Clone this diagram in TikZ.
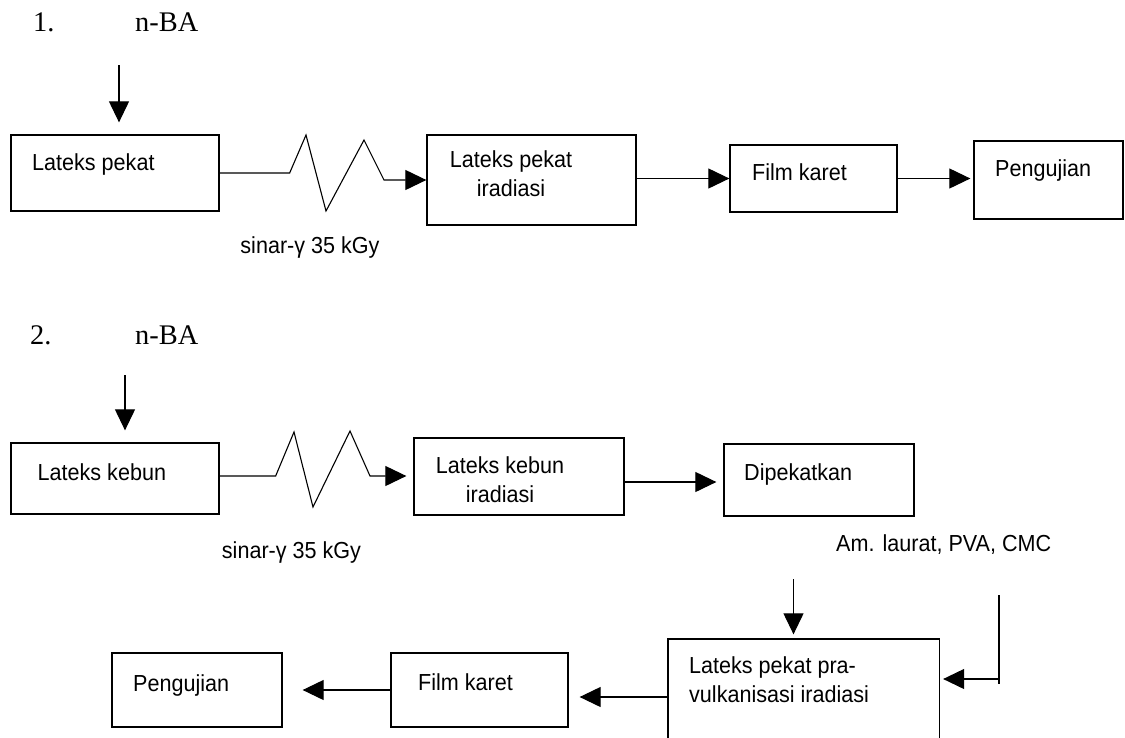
\documentclass[tikz,border=0pt]{standalone}
\usepackage{fontspec}
\setmainfont{Liberation Serif}
\newfontfamily\arialfont[FakeStretch=0.93]{Liberation Sans}
\usetikzlibrary{arrows.meta}
\tikzset{
    box/.style={draw, rectangle, line width=1.3pt, inner sep=0pt},
    txt/.style={inner sep=0pt, anchor=base west,
        font=\arialfont\fontsize{23.2}{29}\selectfont},
    head/.style={inner sep=0pt, anchor=base west,
        font=\fontsize{28.4}{34}\selectfont},
    line/.style={line width=1.1pt},
    arrow/.style={line width=1.1pt, -{Triangle[length=21pt,width=20pt]}}
}

\begin{document}
\begin{tikzpicture}[x=1pt,y=-1pt]
    \useasboundingbox (0,0) rectangle (1125,737);
    \clip (0,0) rectangle (1125,737);

    % skema 1
    \node[head] (no1) at (33,31.5) {1.};
    \node[head] (nba1) at (135,31.5) {n-BA};
    \node[box, minimum width=208pt, minimum height=76pt] (lp) at (115,173) {};
    \node[box, minimum width=209pt, minimum height=90pt] (lpi) at (531.5,180) {};
    \node[box, minimum width=167pt, minimum height=67pt] (fk1) at (813.5,178.5) {};
    \node[box, minimum width=149pt, minimum height=78pt] (uji1) at (1048.5,180) {};
    \node[txt] (lpt) at (32,170) {Lateks pekat};
    \node[txt, anchor=base, align=center] (lpit) at (511,196.5) {Lateks pekat\\iradiasi};
    \node[txt] (fk1t) at (752,180) {Film karet};
    \node[txt] (uji1t) at (995,176) {Pengujian};
    \node[txt, anchor=base] (sinar1) at (310,253) {sinar-γ 35 kGy};

    \coordinate (in1) at (119,65);
    \draw[arrow, shorten >=12pt] (in1) -- (in1 |- lp.north);
    \draw[arrow] (lp.east) -- ++(70,0) -- (306,135) -- (326,211)
        -- (364,140) -- (384,180) -- (lpi.west);
    \draw[arrow] (lpi.east |- fk1.west) -- (fk1.west);
    \draw[arrow, shorten >=3pt] (fk1.east) -- (fk1.east -| uji1.west);

    % skema 2
    \node[head] (no2) at (30,344.5) {2.};
    \node[head] (nba2) at (135,344.5) {n-BA};
    \node[box, minimum width=208pt, minimum height=71pt] (lk) at (115,478.5) {};
    \node[box, minimum width=210pt, minimum height=77pt] (lki) at (519,476.5) {};
    \node[box, minimum width=190pt, minimum height=72pt] (dip) at (819,480) {};
    \node[box, minimum width=271.5pt, minimum height=116pt] (pv) at (803.75,697) {};
    \node[box, minimum width=177pt, minimum height=74pt] (fk2) at (479.5,690) {};
    \node[box, minimum width=170pt, minimum height=74pt] (uji2) at (197,690) {};
    \node[txt] (lkt) at (37.5,480) {Lateks kebun};
    \node[txt, anchor=base, align=center] (lkit) at (500,502.5) {Lateks kebun\\iradiasi};
    \node[txt] (dipt) at (744,480) {Dipekatkan};
    \node[txt] (amt) at (836,551) {Am. laurat, PVA, CMC};
    \node[txt, align=left] (pvt) at (689,702.5) {Lateks pekat pra-\\vulkanisasi iradiasi};
    \node[txt] (fk2t) at (418,690) {Film karet};
    \node[txt] (uji2t) at (133,691) {Pengujian};
    \node[txt, anchor=base] (sinar2) at (291.5,558) {sinar-γ 35 kGy};

    \coordinate (in2) at (125,375);
    \draw[arrow, shorten >=12pt] (in2) -- (in2 |- lk.north);
    \draw[arrow, shorten >=7pt] (lk.east |- 0,476) -- ++(56,0) -- (294,432) -- (313,507)
        -- (350,431) -- (370,476) -- (lki.west |- 0,476);
    \draw[arrow, shorten >=7pt] (lki.east |- 0,482) -- (dip.west |- 0,482);
    \coordinate (dn) at (793.5,579);
    \draw[arrow, shorten >=4pt] (dn) -- (dn |- pv.north);
    \coordinate (am1) at (999,595);
    \coordinate (am2) at (999,684);
    \coordinate (am3) at (999,679);
    \draw[line] (am1) -- (am2);
    \draw[arrow, shorten >=3pt] (am3) -- (am3 -| pv.east);
    \draw[arrow, shorten >=11pt] (pv.west) -- (pv.west -| fk2.east);
    \draw[arrow, shorten >=20pt] (fk2.west) -- (fk2.west -| uji2.east);
\end{tikzpicture}
\end{document}
